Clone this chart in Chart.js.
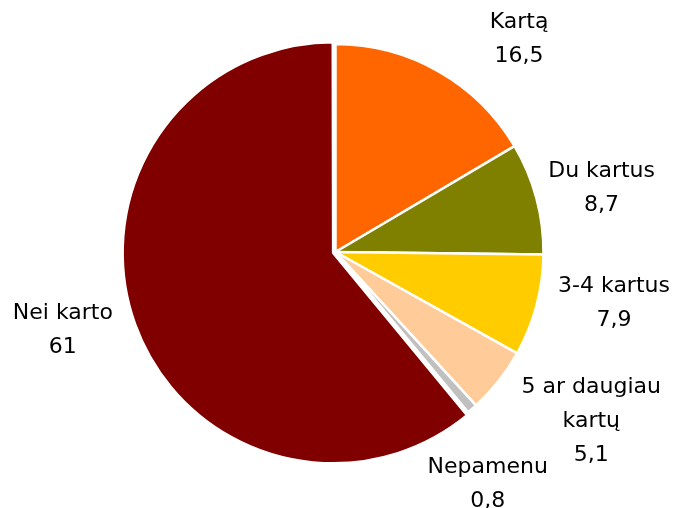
<!DOCTYPE html>
<html>
<head>
<meta charset="utf-8">
<script src="https://cdn.jsdelivr.net/npm/chart.js@4"></script>
<style>
  html, body { margin: 0; padding: 0; background: #fff; }
  #wrap { width: 673px; height: 508px; }
</style>
</head>
<body>
<div id="wrap"><canvas id="pie"></canvas></div>
<script>
// data
const categories = [['Kartą'], ['Du kartus'], ['3-4 kartus'], ['5 ar daugiau', 'kartų'], ['Nepamenu'], ['Nei karto']];
const values = [16.5, 8.7, 7.9, 5.1, 0.8, 61];
const colors = ['#FF6600', '#808000', '#FFCC00', '#FFCC99', '#C0C0C0', '#800000'];

// label placement tweaks (px), Excel "best fit" puts some labels off the mid angle
const labelNudge = [[59, 0], [0, -2], [10, -15], [27, 3], [-33, 44], [-12, -9]];

const FONT = '22px "DejaVu Sans", Verdana, sans-serif';
const CAP_H = 16;
const LINE_H = 34;

const outsideLabels = {
  id: 'outsideLabels',
  afterDatasetsDraw(chart) {
    const ctx = chart.ctx;
    const meta = chart.getDatasetMeta(0);
    ctx.save();
    ctx.font = FONT;
    ctx.fillStyle = '#000';
    ctx.textAlign = 'center';
    ctx.textBaseline = 'alphabetic';
    meta.data.forEach((arc, i) => {
      const p = arc.getProps(['x', 'y', 'startAngle', 'endAngle', 'outerRadius', 'circumference'], true);
      const mid = (p.startAngle + p.endAngle) / 2;
      const dx = Math.cos(mid), dy = Math.sin(mid);
      // same shift that ArcElement.draw applies for an offset slice
      const o = (arc.options.offset || 0) / 4;
      const shift = o + o * (1 - Math.sin(Math.min(Math.PI, p.circumference)));
      const cx = p.x + dx * shift, cy = p.y + dy * shift;
      const lines = categories[i].concat([String(values[i]).replace('.', ',')]);
      const w = Math.max(...lines.map(l => ctx.measureText(l).width));
      const h = CAP_H + (lines.length - 1) * LINE_H;
      const r = p.outerRadius + 14;
      const bx = cx + dx * r + dx * w / 2 + labelNudge[i][0];
      const by = cy + dy * r + dy * h / 2 + labelNudge[i][1];
      const top = by - h / 2;
      lines.forEach((l, k) => ctx.fillText(l, bx, top + CAP_H + k * LINE_H));
    });
    ctx.restore();
  }
};

new Chart(document.getElementById('pie'), {
  type: 'pie',
  data: {
    labels: categories,
    datasets: [{
      data: values,
      backgroundColor: colors,
      borderColor: '#fff',
      borderWidth: 2.5,
      offset: values.map((v, i) => i === values.length - 1 ? 10 : 0)
    }]
  },
  options: {
    responsive: true,
    maintainAspectRatio: false,
    animation: false,
    radius: 208,
    layout: { padding: { left: 0, right: 2, top: 0, bottom: 4 } },
    plugins: {
      legend: { display: false },
      tooltip: { enabled: false }
    }
  },
  plugins: [outsideLabels]
});
</script>
</body>
</html>
